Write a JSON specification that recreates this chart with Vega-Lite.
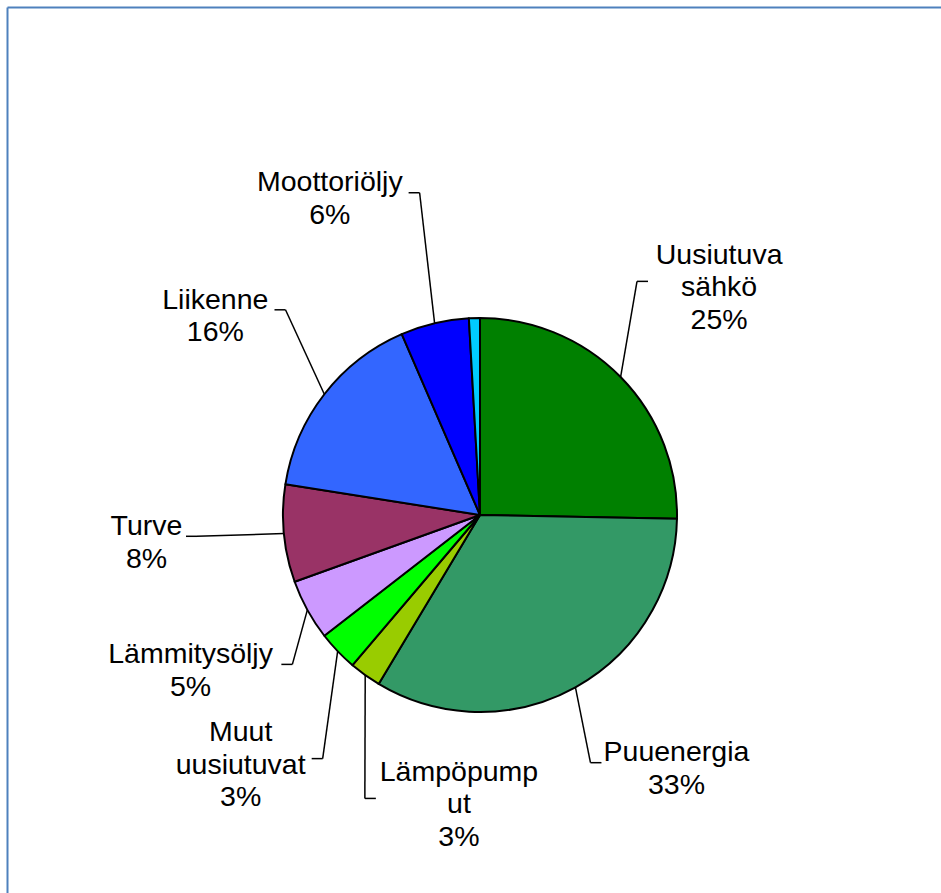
{
  "$schema": "https://vega.github.io/schema/vega-lite/v6.json",
  "width": 934,
  "height": 886,
  "autosize": {"type": "none"},
  "padding": {"left": 7, "top": 7, "right": 0, "bottom": 0},
  "background": "white",
  "config": {
    "view": {"stroke": null},
    "axis": {"domainColor": "#4F81BD", "domainWidth": 2, "ticks": false, "labels": false, "grid": false, "titleOpacity": 0}
  },
  "data": {
    "values": [
      {"lahde": "Uusiutuva sähkö", "osuus": 25.3},
      {"lahde": "Puuenergia", "osuus": 33.3},
      {"lahde": "Lämpöpumput", "osuus": 2.6},
      {"lahde": "Muut uusiutuvat", "osuus": 3.3},
      {"lahde": "Lämmitysöljy", "osuus": 5.0},
      {"lahde": "Turve", "osuus": 8.0},
      {"lahde": "Liikenne", "osuus": 16.0},
      {"lahde": "Moottoriöljy", "osuus": 5.6},
      {"lahde": "Muu", "osuus": 0.9}
    ]
  },
  "transform": [
    {"window": [{"op": "row_number", "as": "jarj"}]},
    {"joinaggregate": [{"op": "sum", "field": "osuus", "as": "yht"}]},
    {"window": [{"op": "sum", "field": "osuus", "as": "kum"}], "sort": [{"field": "jarj"}], "frame": [null, 0]},
    {"calculate": "2*PI*(datum.kum - datum.osuus/2)/datum.yht", "as": "kulma"}
  ],
  "layer": [
    {
      "mark": {"type": "arc", "outerRadius": 197, "stroke": "#000000", "strokeWidth": 2, "strokeJoin": "round"},
      "encoding": {
        "x": {"datum": 0, "type": "quantitative", "scale": {"domain": [-473, 461], "nice": false, "zero": false}, "axis": {"orient": "top"}, "title": null},
        "y": {"datum": 0, "type": "quantitative", "scale": {"domain": [-378, 508], "nice": false, "zero": false}, "axis": {"orient": "left"}, "title": null},
        "theta": {"field": "osuus", "type": "quantitative", "stack": true},
        "order": {"field": "jarj", "type": "quantitative"},
        "color": {
          "field": "lahde",
          "type": "nominal",
          "scale": {
            "domain": ["Uusiutuva sähkö", "Puuenergia", "Lämpöpumput", "Muut uusiutuvat", "Lämmitysöljy", "Turve", "Liikenne", "Moottoriöljy", "Muu"],
            "range": ["#008000", "#339966", "#99CC00", "#00FF00", "#CC99FF", "#993366", "#3366FF", "#0000FF", "#00CCFF"]
          },
          "legend": null
        }
      }
    },
    {
      "transform": [
        {"filter": "datum.lahde !== 'Muu'"},
        {"window": [{"op": "row_number", "as": "k"}], "sort": [{"field": "kulma", "order": "descending"}]},
        {"calculate": "datum.kulma + (datum.k - 1)*27*PI/180", "as": "t0"},
        {"window": [{"op": "min", "field": "t0", "as": "t1"}], "sort": [{"field": "k", "order": "ascending"}], "frame": [null, 0]},
        {"calculate": "datum.t1 - (datum.k - 1)*27*PI/180", "as": "lk"},
        {"calculate": "datum.lahde === 'Lämpöpumput' ? 'Lämpöpump\\nut' : replace(datum.lahde, ' ', '\\n')", "as": "nimirivit"},
        {"calculate": "datum.nimirivit + '\\n' + format(datum.osuus/datum.yht, '.0%')", "as": "teksti"},
        {"calculate": "split(datum.teksti, '\\n')", "as": "rivit"},
        {"calculate": "length(datum.rivit)", "as": "nl"},
        {"calculate": "15.8*length(datum.rivit[0]) - 8*length(replace(datum.rivit[0], regexp('[^iljtrfI]', 'g'), '')) + 8*length(replace(datum.rivit[0], regexp('[^mMwWU%]', 'g'), ''))", "as": "w0"},
        {"calculate": "15.8*length(datum.rivit[1] || '') - 8*length(replace(datum.rivit[1] || '', regexp('[^iljtrfI]', 'g'), '')) + 8*length(replace(datum.rivit[1] || '', regexp('[^mMwWU%]', 'g'), ''))", "as": "w1"},
        {"calculate": "15.8*length(datum.rivit[2] || '') - 8*length(replace(datum.rivit[2] || '', regexp('[^iljtrfI]', 'g'), '')) + 8*length(replace(datum.rivit[2] || '', regexp('[^mMwWU%]', 'g'), ''))", "as": "w2"},
        {"calculate": "max(datum.w0, datum.w1, datum.w2)/2", "as": "hw"},
        {"calculate": "197*sin(datum.kulma)", "as": "ax"},
        {"calculate": "197*cos(datum.kulma)", "as": "ay"},
        {"calculate": "335*sin(datum.lk)", "as": "cx0"},
        {"calculate": "cos(datum.lk) >= 0 ? 325*cos(datum.lk) : 290*cos(datum.lk)", "as": "cy"},
        {"calculate": "sin(datum.lk) < -0.15 ? min(datum.cx0, datum.ax - 30 - datum.hw) : (sin(datum.lk) > 0.15 ? max(datum.cx0, datum.ax + 30 + datum.hw) : datum.cx0)", "as": "cx"},
        {"calculate": "datum.cy + (datum.nl - 1)*16.25", "as": "cyt"},
        {"calculate": "datum.cx > datum.ax ? 1 : -1", "as": "puoli"},
        {"calculate": "datum.cx - datum.puoli*(datum.hw + 4)", "as": "bx"},
        {"calculate": "datum.bx - datum.puoli*11", "as": "tx"},
        {"calculate": "datum.cy + 6", "as": "by"}
      ],
      "layer": [
        {
          "mark": {"type": "rule", "color": "#000000", "strokeWidth": 1.5},
          "encoding": {
            "x": {"field": "ax", "type": "quantitative", "scale": {"domain": [-473, 461], "nice": false, "zero": false}, "axis": {"orient": "top"}, "title": null},
            "y": {"field": "ay", "type": "quantitative", "scale": {"domain": [-378, 508], "nice": false, "zero": false}, "axis": {"orient": "left"}, "title": null},
            "x2": {"field": "tx"},
            "y2": {"field": "by"}
          }
        },
        {
          "mark": {"type": "rule", "color": "#000000", "strokeWidth": 1.5},
          "encoding": {
            "x": {"field": "tx", "type": "quantitative", "scale": {"domain": [-473, 461], "nice": false, "zero": false}, "axis": {"orient": "top"}, "title": null},
            "y": {"field": "by", "type": "quantitative", "scale": {"domain": [-378, 508], "nice": false, "zero": false}, "axis": {"orient": "left"}, "title": null},
            "x2": {"field": "bx"},
            "y2": {"field": "by"}
          }
        },
        {
          "mark": {"type": "text", "font": "Liberation Sans", "fontSize": 28.5, "lineHeight": 32.5, "lineBreak": "\n", "align": "center", "baseline": "middle", "color": "#000000"},
          "encoding": {
            "x": {"field": "cx", "type": "quantitative", "scale": {"domain": [-473, 461], "nice": false, "zero": false}, "axis": {"orient": "top"}, "title": null},
            "y": {"field": "cyt", "type": "quantitative", "scale": {"domain": [-378, 508], "nice": false, "zero": false}, "axis": {"orient": "left"}, "title": null},
            "text": {"field": "teksti", "type": "nominal"}
          }
        }
      ]
    }
  ]
}
